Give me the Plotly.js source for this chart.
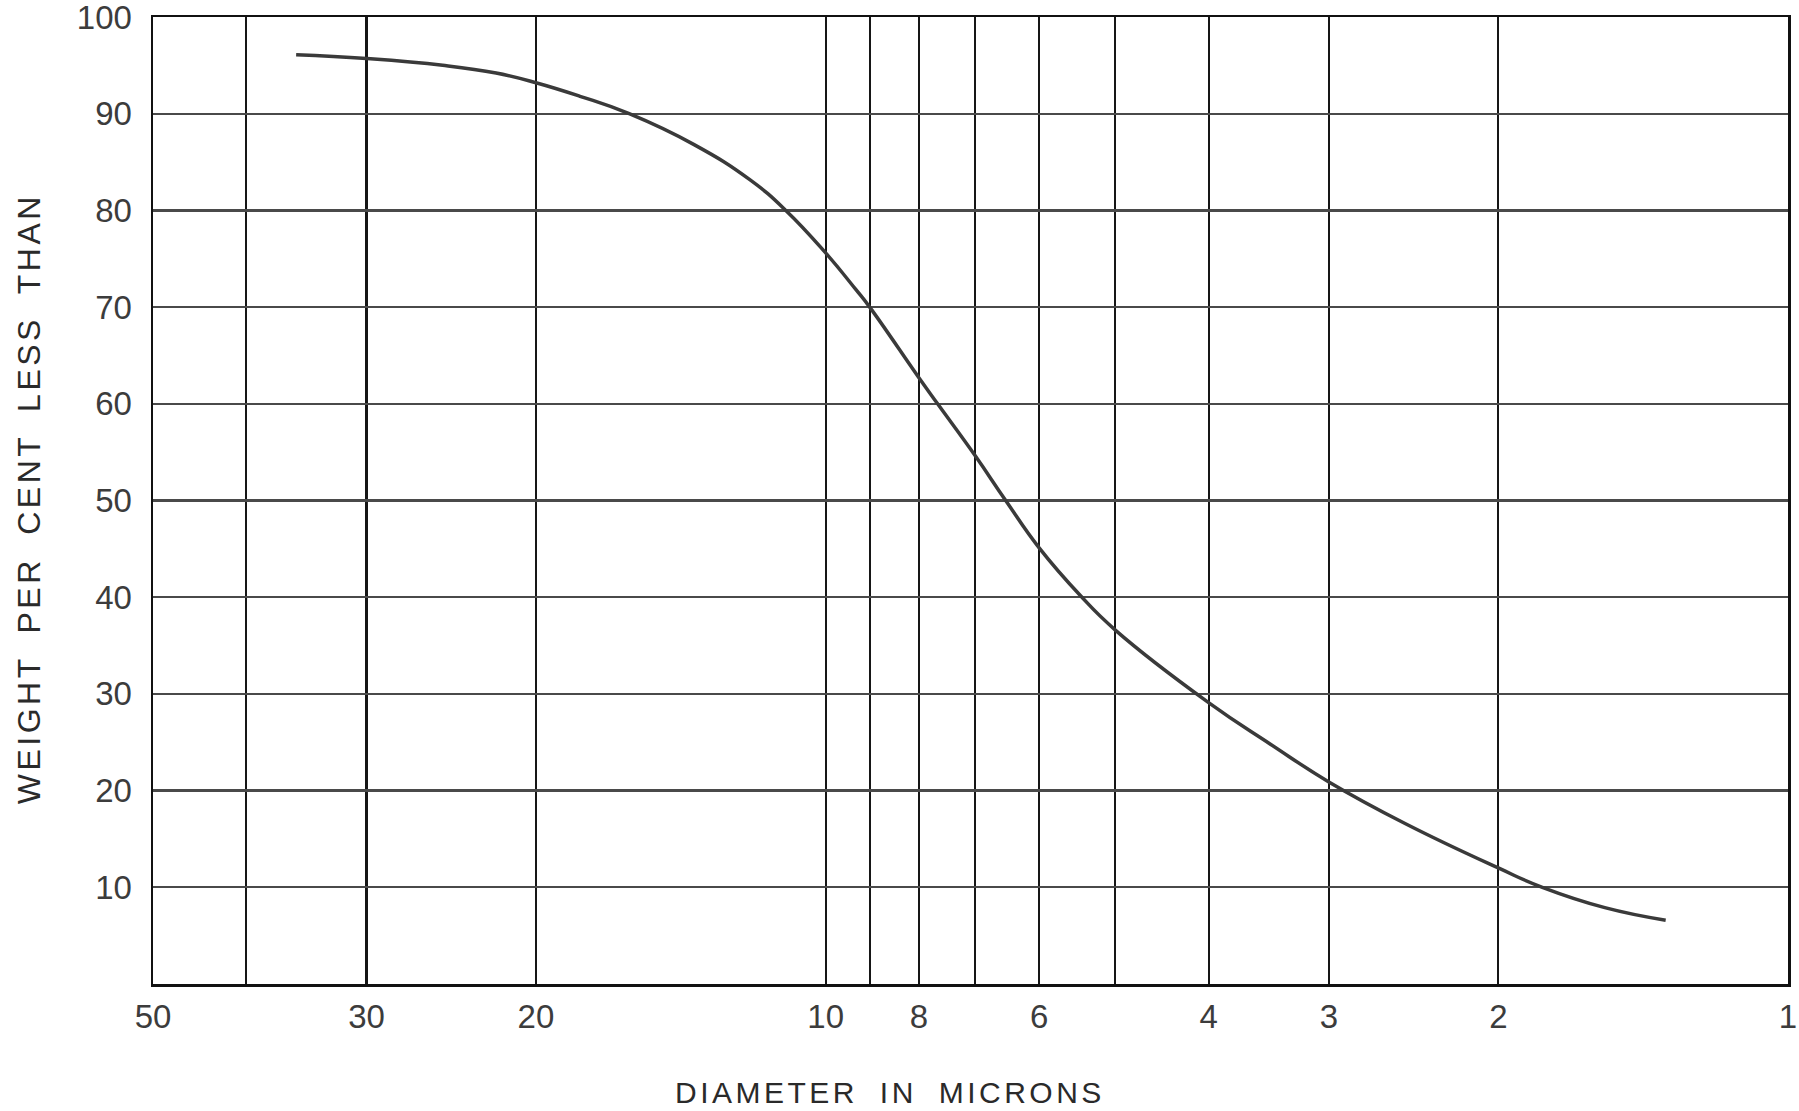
<!DOCTYPE html>
<html>
<head>
<meta charset="utf-8">
<script src="https://cdn.plot.ly/plotly-3.0.1.min.js"></script>
<style>
  html, body { margin: 0; padding: 0; background: #ffffff; }
  #chart { width: 1799px; height: 1111px; }
  .annotation-text { letter-spacing: 3.5px; word-spacing: 10px; }
</style>
</head>
<body>
<div id="chart"></div>
<script>
// Particle size distribution curve
const diameterMicrons = [35.5, 30, 25, 22, 20, 18, 16, 13.7, 12, 11, 10, 9.3, 9, 8, 7.65, 7, 6.5, 6, 5.44, 5, 4, 3.45, 3, 2.5, 2, 1.8, 1.55, 1.34];
const weightPctLessThan = [96.1, 95.7, 95.0, 94.2, 93.2, 91.8, 90, 86.8, 83.2, 80, 75.6, 71.8, 70, 62.7, 60, 54.7, 50, 45.1, 40.2, 36.6, 29.1, 24.8, 20.9, 16.6, 12, 10, 7.9, 6.6];

// Axis ticks / grid
const xTickVals = [50, 40, 30, 20, 10, 9, 8, 7, 6, 5, 4, 3, 2, 1];
const xTickText = ['50', '', '30', '20', '10', '', '8', '', '6', '', '4', '3', '2', '1'];
const yTickVals = [10, 20, 30, 40, 50, 60, 70, 80, 90, 100];
const yTickText = ['10', '20', '30', '40', '50', '60', '70', '80', '90', '100'];

const xTitle = 'DIAMETER IN MICRONS';
const yTitle = 'WEIGHT PER CENT LESS THAN';

const tickFont = { family: 'Liberation Sans, Arial, sans-serif', size: 33, color: '#3c3c3c' };
const titleFont = { family: 'Liberation Sans, Arial, sans-serif', color: '#2a2a2a' };

const trace = {
  x: diameterMicrons,
  y: weightPctLessThan,
  type: 'scatter',
  mode: 'lines',
  line: { color: '#3a3a3a', width: 3.5, shape: 'spline', smoothing: 1.3 },
  showlegend: false,
  hoverinfo: 'x+y'
};

const layout = {
  width: 1799,
  height: 1111,
  margin: { l: 153, r: 11, t: 17, b: 127 },
  paper_bgcolor: '#ffffff',
  plot_bgcolor: '#ffffff',
  showlegend: false,
  xaxis: {
    type: 'log',
    range: [Math.log10(50), 0],
    tickmode: 'array',
    tickvals: xTickVals,
    ticktext: xTickText,
    ticks: '',
    tickfont: tickFont,
    ticklabelstandoff: 2,
    ticklabeloverflow: 'allow',
    showgrid: true,
    gridcolor: '#161616',
    gridwidth: 2.2,
    showline: true,
    linecolor: '#111111',
    linewidth: 2.5,
    mirror: true,
    zeroline: false
  },
  yaxis: {
    range: [0, 100],
    tickmode: 'array',
    tickvals: yTickVals,
    ticktext: yTickText,
    ticks: '',
    tickfont: tickFont,
    ticklabelstandoff: 12,
    ticklabeloverflow: 'allow',
    showgrid: true,
    gridcolor: '#4a4a4a',
    gridwidth: 2.2,
    showline: true,
    linecolor: '#111111',
    linewidth: 2.5,
    mirror: true,
    zeroline: false
  },
  annotations: [
    {
      text: xTitle,
      xref: 'paper', yref: 'paper',
      x: 0.4507, y: -0.112,
      xanchor: 'center', yanchor: 'middle',
      showarrow: false,
      font: Object.assign({ size: 30 }, titleFont)
    },
    {
      text: yTitle,
      textangle: -90,
      xref: 'paper', yref: 'paper',
      x: -0.076, y: 0.502,
      xanchor: 'center', yanchor: 'middle',
      showarrow: false,
      font: Object.assign({ size: 32 }, titleFont)
    }
  ]
};

Plotly.newPlot('chart', [trace], layout, { staticPlot: true, displayModeBar: false });
</script>
</body>
</html>
